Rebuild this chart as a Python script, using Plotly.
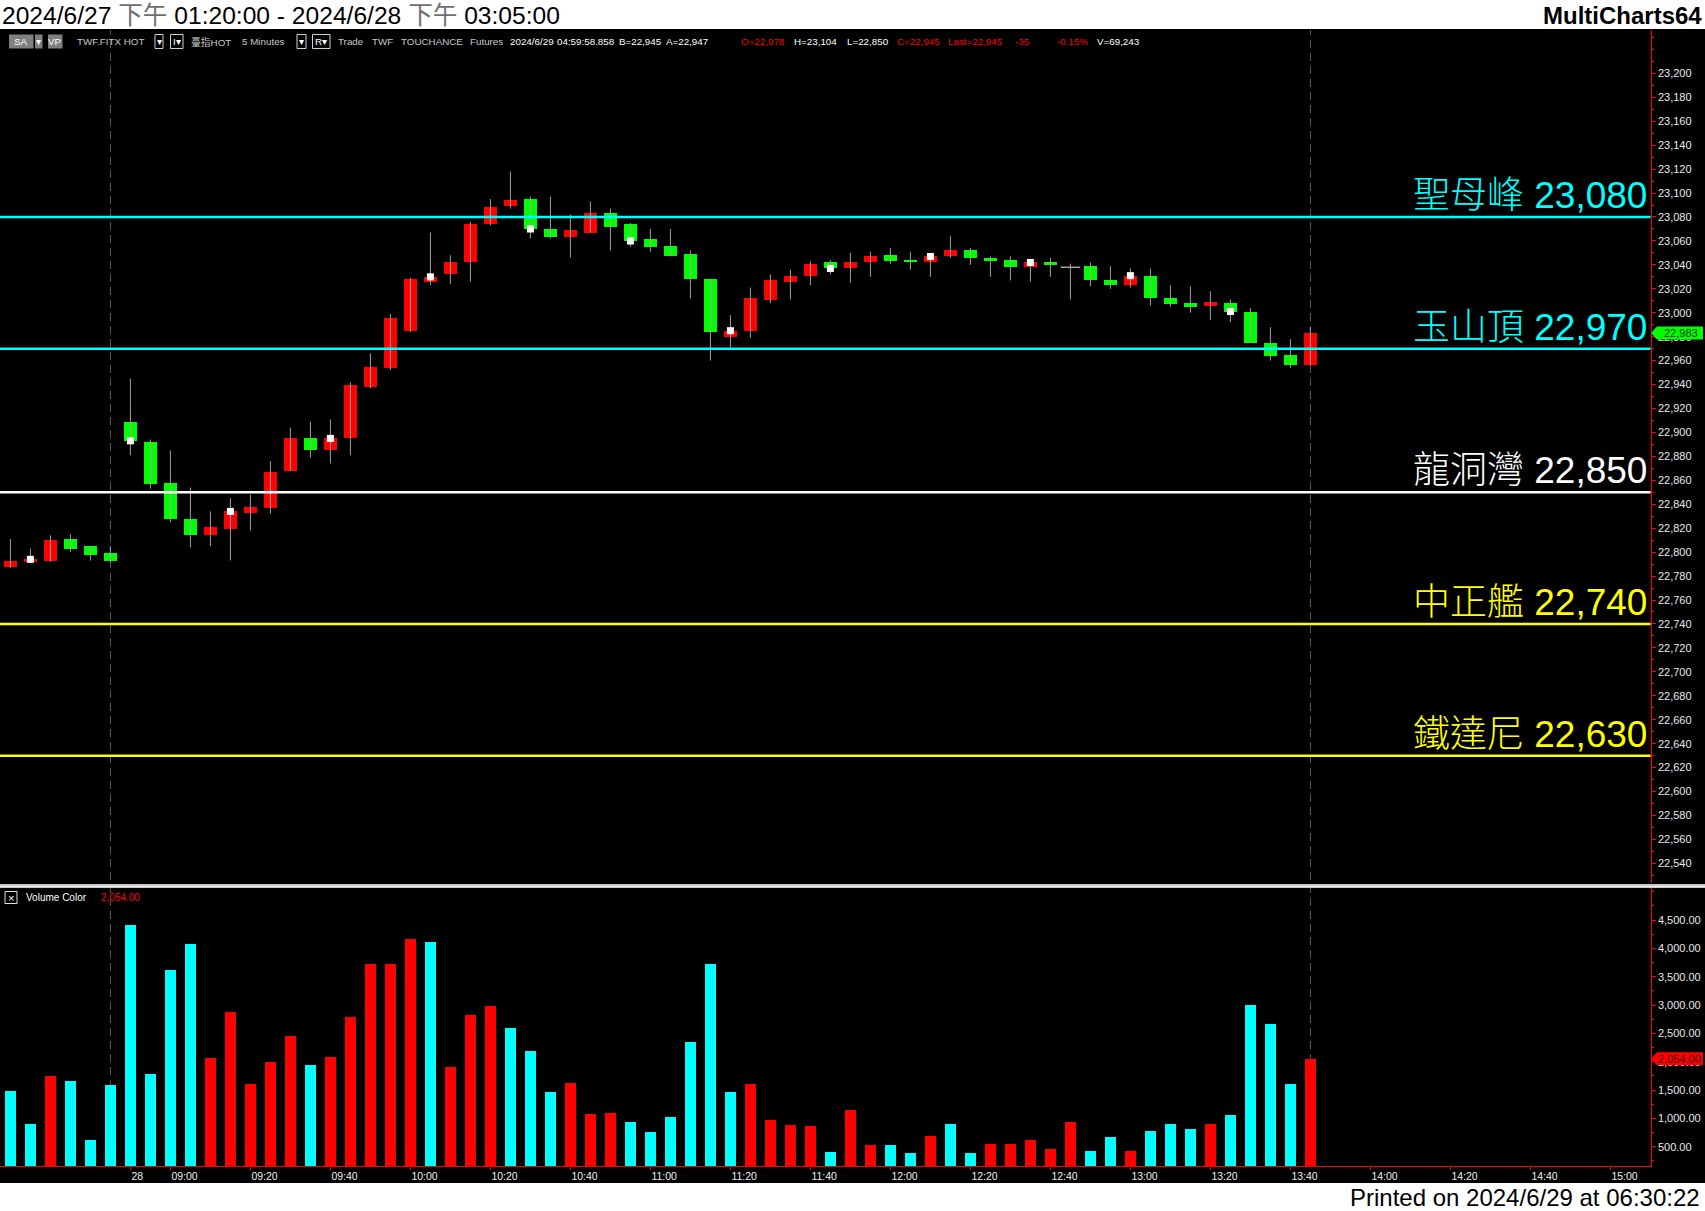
import plotly.graph_objects as go

W, H = 1705, 1211

# ---------------- data ----------------
opens = [22788, 22792, 22793, 22811, 22805, 22799, 22909, 22892, 22858, 22828,
         22814, 22819, 22833, 22837, 22868, 22895, 22885, 22895, 22938, 22954,
         22985, 23026, 23032, 23042, 23074, 23089, 23095, 23070, 23063, 23067,
         23083, 23074, 23062, 23056, 23049, 23028, 22980, 22985, 23011, 23026,
         23031, 23042, 23037, 23042, 23048, 23044, 23042, 23047, 23052, 23046,
         23044, 23038, 23042, 23038, 23039, 23027, 23023, 23031, 23012, 23008,
         23006, 23008, 23001, 22975, 22965, 22956]
highs = [22811, 22803, 22814, 22815, 22805, 22805, 22945, 22894, 22885, 22854,
         22834, 22845, 22848, 22876, 22904, 22909, 22911, 22942, 22966, 22999,
         23029, 23067, 23048, 23076, 23095, 23118, 23097, 23097, 23082, 23093,
         23087, 23075, 23070, 23070, 23052, 23028, 22998, 23021, 23032, 23036,
         23043, 23044, 23050, 23051, 23054, 23051, 23050, 23064, 23054, 23047,
         23047, 23044, 23046, 23041, 23042, 23039, 23037, 23037, 23023, 23022,
         23018, 23011, 23004, 22988, 22978, 22988]
lows = [22787, 22791, 22792, 22800, 22793, 22791, 22881, 22853, 22825, 22804,
        22805, 22793, 22818, 22832, 22868, 22879, 22874, 22881, 22937, 22952,
        22984, 23023, 23024, 23026, 23073, 23087, 23062, 23062, 23046, 23067,
        23052, 23055, 23051, 23047, 23012, 22960, 22971, 22979, 23008, 23011,
        23023, 23032, 23025, 23030, 23041, 23036, 23030, 23046, 23040, 23030,
        23027, 23026, 23030, 23011, 23022, 23020, 23021, 23006, 23005, 23000,
        22994, 22992, 22975, 22960, 22954, 22956]
closes = [22793, 22794, 22810, 22803, 22798, 22793, 22893, 22857, 22828, 22814,
          22821, 22834, 22838, 22867, 22895, 22885, 22895, 22940, 22955, 22996,
          23028, 23030, 23042, 23074, 23088, 23094, 23070, 23063, 23069, 23083,
          23072, 23060, 23055, 23047, 23028, 22984, 22985, 23012, 23027, 23031,
          23041, 23037, 23042, 23047, 23043, 23042, 23047, 23052, 23046, 23043,
          23038, 23042, 23040, 23038, 23027, 23023, 23031, 23012, 23007, 23005,
          23009, 23001, 22975, 22964, 22956, 22983]
volumes = [1483, 900, 1747, 1659, 618, 1588, 4413, 1782, 3618, 4077,
           2065, 2877, 1606, 1994, 2453, 1941, 2082, 2789, 3724, 3724,
           4165, 4112, 1906, 2824, 2983, 2594, 2188, 1465, 1624, 1077,
           1094, 935, 759, 1024, 2347, 3724, 1465, 1606, 971, 883,
           865, 406, 1147, 530, 530, 396, 683, 894, 396, 549,
           549, 625, 452, 932, 433, 664, 433, 779, 894, 817,
           894, 1066, 3004, 2660, 1604, 2054]
vol_side = list("ccrccccccc" "rrrrrcrrrr" "rcrrrcccrr" "rccccccrrr"
                "rcrrccrccr" "rrrrccrccc" "rccccr")
marker_bars = [1, 6, 11, 16, 21, 26, 31, 36, 41, 46, 51, 56, 61]

tick_pos = [6, 8, 12, 16, 20, 24, 28, 32, 36, 40, 44, 48, 52, 56, 60, 64, 68, 72, 76, 80]
tick_text = ["28", "09:00", "09:20", "09:40", "10:00", "10:20", "10:40", "11:00",
             "11:20", "11:40", "12:00", "12:20", "12:40", "13:00", "13:20",
             "13:40", "14:00", "14:20", "14:40", "15:00"]
session_ends = [5, 65]

levels = [23080, 22970, 22850, 22740, 22630]
level_names = ["聖母峰", "玉山頂", "龍洞灣", "中正艦", "鐵達尼"]
level_colors = ["#00FFFF", "#00FFFF", "#FFFFFF", "#FFFF00", "#FFFF00"]

last_price = 22983
last_volume = 2054

price_ticks = list(range(22540, 23201, 20))
vol_ticks = list(range(500, 4501, 500))

# ---------------- helpers ----------------
def px(x):
    return x / W


def py(y):
    return 1 - y / H


AX_X = 1650.7
FONT = "Liberation Sans, Arial, Noto Sans CJK TC"

n = len(opens)
xs = list(range(n))

fig = go.Figure()

# wicks
wx, wy = [], []
for i in range(n):
    wx += [i, i, None]
    wy += [lows[i], highs[i], None]
fig.add_trace(go.Scatter(x=wx, y=wy, mode="lines", xaxis="x", yaxis="y",
                         line=dict(color="#a0a0a0", width=1),
                         hoverinfo="skip", showlegend=False))

# bodies
body_base = [min(o, c) for o, c in zip(opens, closes)]
body_h = [abs(c - o) for o, c in zip(opens, closes)]
body_col = ["#FF0000" if c > o else "#00FF00" for o, c in zip(opens, closes)]
fig.add_trace(go.Bar(x=xs, y=body_h, base=body_base, width=0.65, xaxis="x", yaxis="y",
                     marker=dict(color=body_col, line=dict(width=0)),
                     hoverinfo="skip", showlegend=False))

# doji
dj = [i for i in range(n) if opens[i] == closes[i]]
fig.add_trace(go.Scatter(x=dj, y=[closes[i] for i in dj], mode="markers", xaxis="x", yaxis="y",
                         marker=dict(symbol="line-ew", size=14,
                                     line=dict(color="#a0a0a0", width=1.5)),
                         hoverinfo="skip", showlegend=False))

# white markers
fig.add_trace(go.Scatter(x=marker_bars, y=[closes[i] for i in marker_bars], mode="markers",
                         xaxis="x", yaxis="y",
                         marker=dict(symbol="square", size=7, color="#FFFFFF", line=dict(width=0)),
                         hoverinfo="skip", showlegend=False))

# volume
vcol = ["#FF0000" if s == "r" else "#00FFFF" for s in vol_side]
fig.add_trace(go.Bar(x=xs, y=volumes, width=0.56, xaxis="x", yaxis="y2",
                     marker=dict(color=vcol, line=dict(width=0)),
                     hoverinfo="skip", showlegend=False))

shapes = []
annotations = []

# session end dashed lines
for s in session_ends:
    shapes.append(dict(type="line", xref="x", yref="paper", x0=s, x1=s,
                       y0=py(1166), y1=py(30), layer="below",
                       line=dict(color="#5a5a5a", width=1, dash="8px,5px")))

# level lines + labels
for lv, nm, col in zip(levels, level_names, level_colors):
    shapes.append(dict(type="line", xref="paper", yref="y", x0=0, x1=px(AX_X),
                       y0=lv, y1=lv, line=dict(color=col, width=2.5)))
    annotations.append(dict(xref="paper", yref="y", x=px(1649), y=lv,
                            xanchor="right", yanchor="middle", yshift=21.5,
                            text=f"{nm} {lv:,}", showarrow=False,
                            font=dict(family=FONT, size=37, color=col, weight=300)))

# header / footer white strips
shapes.append(dict(type="rect", xref="paper", yref="paper", x0=0, x1=1,
                   y0=py(29), y1=1, fillcolor="#FFFFFF", line=dict(width=0), layer="above"))
shapes.append(dict(type="rect", xref="paper", yref="paper", x0=0, x1=1,
                   y0=0, y1=py(1183), fillcolor="#FFFFFF", line=dict(width=0), layer="above"))
# pane separator
shapes.append(dict(type="rect", xref="paper", yref="paper", x0=0, x1=1,
                   y0=py(888), y1=py(884), fillcolor="#c8c8c8", line=dict(width=0), layer="above"))
shapes.append(dict(type="line", xref="paper", yref="paper", x0=0, x1=1,
                   y0=py(886.5), y1=py(886.5), line=dict(color="#f0f0f0", width=1), layer="above"))

# price tags
tag_path = "M0,0 L6,6.5 L52,6.5 L52,-6.5 L6,-6.5 Z"
shapes.append(dict(type="path", xref="paper", yref="y", xsizemode="pixel", ysizemode="pixel",
                   xanchor=px(1651), yanchor=last_price, path=tag_path,
                   fillcolor="#00FF00", line=dict(width=0), layer="above"))
annotations.append(dict(xref="paper", yref="y", x=px(1681), y=last_price, xanchor="center",
                        yanchor="middle", text=f"{last_price:,}", showarrow=False,
                        font=dict(family=FONT, size=11, color="#003300")))
shapes.append(dict(type="path", xref="paper", yref="y2", xsizemode="pixel", ysizemode="pixel",
                   xanchor=px(1651), yanchor=last_volume, path=tag_path,
                   fillcolor="#FF0000", line=dict(width=0), layer="above"))
annotations.append(dict(xref="paper", yref="y2", x=px(1679), y=last_volume, xanchor="center",
                        yanchor="middle", text=f"{last_volume:,.2f}", showarrow=False,
                        font=dict(family=FONT, size=11, color="#3a0000")))

# title texts
annotations.append(dict(xref="paper", yref="paper", x=0, y=py(15), xanchor="left", yanchor="middle",
                        text="2024/6/27 <span style='color:#707070'>下午</span> 01:20:00 - 2024/6/28 "
                             "<span style='color:#707070'>下午</span> 03:05:00",
                        showarrow=False, font=dict(family=FONT, size=24.6, color="#000000")))
annotations.append(dict(xref="paper", yref="paper", x=px(1704), y=py(15), xanchor="right",
                        yanchor="middle", text="<b>MultiCharts64</b>", showarrow=False,
                        font=dict(family=FONT, size=24, color="#000000")))
annotations.append(dict(xref="paper", yref="paper", x=px(1702), y=py(1197), xanchor="right",
                        yanchor="middle", text="Printed on 2024/6/29 at 06:30:22", showarrow=False,
                        font=dict(family=FONT, size=24, color="#000000")))

# info row
HY = 41.5
def hbox(x0, x1, fill, border=None):
    shapes.append(dict(type="rect", xref="paper", yref="paper", x0=px(x0), x1=px(x1),
                       y0=py(48.5), y1=py(34.5), fillcolor=fill,
                       line=dict(width=1 if border else 0, color=border or fill), layer="above"))

hbox(9, 33.5, "#808080")
hbox(35, 42.5, "#808080")
hbox(48, 62.5, "#808080")
hbox(155, 163, "#000000", "#d0d0d0")
hbox(170.5, 183, "#000000", "#d0d0d0")
hbox(297, 306, "#000000", "#d0d0d0")
hbox(312.5, 330, "#000000", "#d0d0d0")

info_items = [
    (21.2, "SA", "#FFFFFF", "center"), (38.7, "▾", "#FFFFFF", "center"),
    (55.2, "VP", "#FFFFFF", "center"),
    (75, "TWF.FITX HOT", "#c8c8c8", "left"), (159, "▾", "#FFFFFF", "center"),
    (176.7, "I▾", "#FFFFFF", "center"),
    (189, "臺指HOT", "#c8c8c8", "left"), (240, "5 Minutes", "#c8c8c8", "left"),
    (301.5, "▾", "#FFFFFF", "center"), (321.2, "R▾", "#FFFFFF", "center"),
    (336, "Trade", "#c8c8c8", "left"), (369.5, "TWF", "#c8c8c8", "left"),
    (398.5, "TOUCHANCE", "#c8c8c8", "left"), (468, "Futures", "#c8c8c8", "left"),
    (508, "2024/6/29", "#FFFFFF", "left"), (555, "04:59:58.858", "#FFFFFF", "left"),
    (617, "B=22,945", "#FFFFFF", "left"), (664, "A=22,947", "#FFFFFF", "left"),
    (739, "O=22,978", "#FF0000", "left"), (792, "H=23,104", "#FFFFFF", "left"),
    (845, "L=22,850", "#FFFFFF", "left"), (894.5, "C=22,945", "#FF0000", "left"),
    (946, "Last=22,945", "#FF0000", "left"), (1013, "-35", "#FF0000", "left"),
    (1055, "-0.15%", "#FF0000", "left"), (1095, "V=69,243", "#FFFFFF", "left"),
]
for x, t, c, anc in info_items:
    annotations.append(dict(xref="paper", yref="paper", x=px(x), y=py(HY), xanchor=anc,
                            yanchor="middle", text=t, showarrow=False,
                            font=dict(family=FONT, size=9.8, color=c)))

# volume pane label
shapes.append(dict(type="rect", xref="paper", yref="paper", x0=px(5), x1=px(17),
                   y0=py(903.5), y1=py(891.5), fillcolor="#000000",
                   line=dict(width=1, color="#e0e0e0"), layer="above"))
annotations.append(dict(xref="paper", yref="paper", x=px(11), y=py(897.5), xanchor="center",
                        yanchor="middle", text="×", showarrow=False,
                        font=dict(family=FONT, size=11, color="#FFFFFF")))
annotations.append(dict(xref="paper", yref="paper", x=px(23.5), y=py(897.5), xanchor="left",
                        yanchor="middle", text="Volume Color", showarrow=False,
                        font=dict(family=FONT, size=10, color="#FFFFFF")))
annotations.append(dict(xref="paper", yref="paper", x=px(99), y=py(897.5), xanchor="left",
                        yanchor="middle", text=f"{last_volume:,.2f}", showarrow=False,
                        font=dict(family=FONT, size=10, color="#FF0000")))

tickfont = dict(family=FONT, size=11, color="#e8e8e8")

fig.update_layout(
    width=W, height=H, margin=dict(l=0, r=0, t=0, b=0),
    paper_bgcolor="#000000", plot_bgcolor="#000000",
    showlegend=False, barmode="overlay", bargap=0,
    xaxis=dict(domain=[0, px(AX_X)], range=[-0.52, 82.015], anchor="y2",
               showgrid=False, zeroline=False, showline=True, linecolor="#FF0000", linewidth=1,
               ticks="outside", ticklen=3, tickcolor="#FF0000",
               tickvals=tick_pos, ticktext=tick_text, ticklabelposition="outside right",
               tickfont=dict(family=FONT, size=10.5, color="#f0f0f0")),
    yaxis=dict(domain=[py(883), py(30)], range=[22523.6, 23236.2], anchor="x", side="right",
               showgrid=False, zeroline=False, showline=True, linecolor="#FF0000", linewidth=1,
               ticks="outside", ticklen=4, tickcolor="#FF0000", tickvals=price_ticks,
               tickformat=",d", tickfont=tickfont,
               minor=dict(ticks="outside", ticklen=2, tickcolor="#FF0000", dtick=10,
                          tick0=22530, showgrid=False)),
    yaxis2=dict(domain=[py(1166), py(888)], range=[159.4, 5065], anchor="x", side="right",
                showgrid=False, zeroline=False, showline=True, linecolor="#FF0000", linewidth=1,
                ticks="outside", ticklen=4, tickcolor="#FF0000", tickvals=vol_ticks,
                tickformat=",.2f", tickfont=tickfont,
                minor=dict(ticks="outside", ticklen=2, tickcolor="#FF0000", dtick=250,
                           tick0=250, showgrid=False)),
    shapes=shapes, annotations=annotations,
)

fig.write_html("out.html",
               config={"displayModeBar": False, "staticPlot": True},
               post_script="document.body.style.margin='0';document.body.style.padding='0';"
                           "document.body.style.overflow='hidden';")
